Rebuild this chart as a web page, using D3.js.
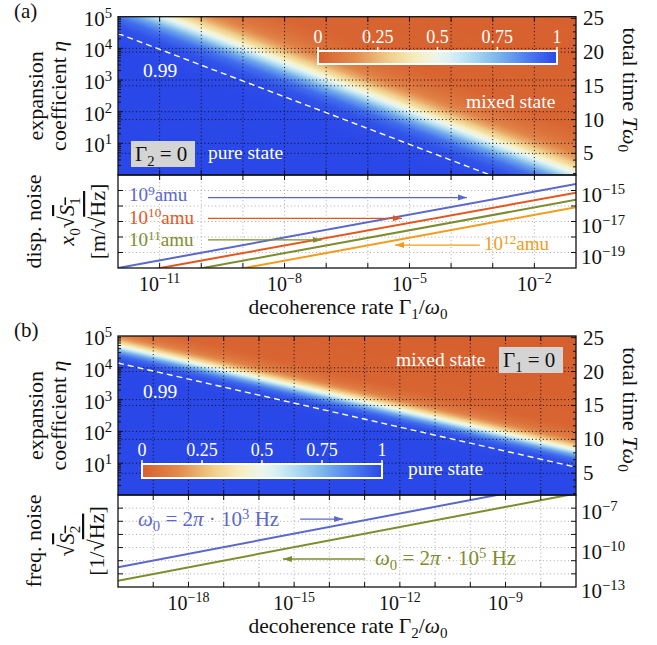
<!DOCTYPE html>
<html>
<head>
<meta charset="utf-8">
<script src="https://cdn.jsdelivr.net/npm/d3@7"></script>
<style>
body { margin: 0; background: #fff; }
text { font-family: "Liberation Serif", "Times New Roman", serif; fill: #111; }
</style>
</head>
<body>
<svg id="fig" width="657" height="645"></svg>
<script>
// purity colour map (0 = mixed, 1 = pure)
const cmapStops = [0, 0.15, 0.3, 0.42, 0.52, 0.62, 0.75, 0.88, 1];
const cmapColors = ['#d65f2e', '#e2894c', '#f0cf8c', '#f7f1c4', '#e9f6f3', '#b9e2f3', '#7db6ec', '#4b7bef', '#2a48e8'];
const cbarTicks = [0, 0.25, 0.5, 0.75, 1];
const cbarLabels = ['0', '0.25', '0.5', '0.75', '1'];

// purity across the band, vs decades of eta^n * Gamma past the 0.99 line
const bandShift = [-3, -1, 0, 0.5, 1, 1.5, 2, 2.5, 3, 3.5, 4, 5, 14];
const bandPurity = [1, 0.999, 0.99, 0.97, 0.91, 0.78, 0.57, 0.37, 0.22, 0.12, 0.07, 0.02, 0];

const etaDomain = [1, 1e5];
const etaTicks = [1e1, 1e2, 1e3, 1e4, 1e5];
const timeDomain = [1.79, 25.24];
const timeTicks = [5, 10, 15, 20, 25];

// (a) Gamma_2 = 0
const gammaA = [1e-12, 1e-1];
const gammaALabels = [1e-11, 1e-8, 1e-5, 1e-2];
const contourAGamma = [1e-12, 1e-3];
const contourAEta = [2.95e4, 0.93];
const noiseADomain = [1e-20, 1e-14];
const noiseALabels = [1e-19, 1e-17, 1e-15];
const massExp = ['9', '10', '11', '12'];
const massColors = ['#5a68c9', '#e4561f', '#7c8d2e', '#f39c1b'];
const noiseM9 = [1.0e-20, 2.6e-15];
const noiseM10 = [3.2e-21, 7.2e-16];
const noiseM11 = [1.0e-21, 2.5e-16];
const noiseM12 = [3.2e-22, 8.3e-17];
// arrows [gamma from, gamma to, noise level]
const arrowsA = [[1.45e-10, 2.4e-4, 3.5e-16], [1.45e-10, 6.6e-6, 1.6e-17], [1.45e-10, 7.9e-8, 6.5e-19], [4.9e-4, 4.5e-6, 3.0e-19]];

// (b) Gamma_1 = 0
const gammaB = [1e-20, 1e-7];
const gammaBLabels = [1e-18, 1e-15, 1e-12, 1e-9];
const contourBGamma = [1e-20, 1e-7];
const contourBEta = [1.41e4, 7.5];
const noiseBDomain = [1e-13, 1e-6];
const noiseBLabels = [1e-13, 1e-10, 1e-7];
const freqExp = ['3', '5'];
const freqColors = ['#5a68c9', '#7c8d2e'];
const noiseW3 = [3.2e-12, 1.4e-5];
const noiseW5 = [3.0e-13, 1.3e-6];
const arrowsB = [[1.48e-15, 2.45e-14, 1.48e-8], [1.02e-13, 4.8e-16, 1.35e-11]];

const X0 = 118, X1 = 576;
const svg = d3.select('#fig');
const defs = svg.append('defs');

const cmap = d3.scaleLinear().domain(cmapStops).range(cmapColors).interpolate(d3.interpolateRgb);
const band = d3.scaleLinear().domain(bandShift).range(bandPurity).clamp(true);

const grad = defs.append('linearGradient').attr('id', 'cbar');
d3.range(0, 1.0001, 0.05).forEach(t => grad.append('stop').attr('offset', t).attr('stop-color', cmap(t)));

function marker(id, col) {
  defs.append('marker').attr('id', id).attr('markerUnits', 'userSpaceOnUse')
    .attr('markerWidth', 10).attr('markerHeight', 8).attr('refX', 9).attr('refY', 4)
    .attr('orient', 'auto')
    .append('path').attr('d', 'M0,1L9,4L0,7Z').attr('fill', col);
}

// text with sub/superscripts: parts [text, 'sup'|'sub'|'', italic, overline]
function rich(g, parts, fs, supLvl) {
  const t = g.append('text').attr('font-size', fs);
  let shift = 0;
  parts.forEach(p => {
    const lvl = p[1] === 'sup' ? (supLvl || -0.38) : p[1] === 'sub' ? 0.25 : 0;
    const ts = t.append('tspan').text(p[0]).attr('dy', ((lvl - shift) * fs) + 'px');
    if (p[1]) ts.attr('font-size', fs * 0.7);
    if (p[2]) ts.attr('font-style', 'italic');
    if (p[3]) ts.attr('text-decoration', 'overline');
    shift = lvl;
  });
  return t;
}
function pow10(v) {
  const e = Math.round(Math.log10(v));
  return [['10', ''], [(e < 0 ? '\u2212' : '') + Math.abs(e), 'sup']];
}

function panel(o) {
  const g = svg.append('g');
  const x = d3.scaleLog().domain(o.gamma).range([X0, X1]);
  const yh = d3.scaleLog().domain(etaDomain).range([o.mid, o.top]);
  const yt = d3.scaleLinear().domain(timeDomain).range([o.mid, o.top]);
  const yl = d3.scaleLog().domain(o.noiseDomain).range([o.bot, o.mid]);
  const decades = d3.range(Math.log10(o.gamma[0]) + 1, Math.log10(o.gamma[1])).map(e => Math.pow(10, e));

  // heat map
  const contour = d3.scaleLog().domain(o.contourGamma).range(o.contourEta.map(Math.log10));
  const w = X1 - X0, h = Math.round(o.mid - o.top);
  const cv = document.createElement('canvas');
  cv.width = w; cv.height = h;
  const ctx = cv.getContext('2d');
  const img = ctx.createImageData(w, h);
  for (let j = 0; j < h; j++) {
    const eta = yh.invert(o.top + (j + 0.5) * (o.mid - o.top) / h);
    for (let i = 0; i < w; i++) {
      const gam = x.invert(X0 + i + 0.5);
      const d = o.power * (Math.log10(eta) - contour(gam));
      const c = d3.rgb(cmap(band(d)));
      const k = (j * w + i) * 4;
      img.data[k] = c.r; img.data[k + 1] = c.g; img.data[k + 2] = c.b; img.data[k + 3] = 255;
    }
  }
  ctx.putImageData(img, 0, 0);
  g.append('image').attr('x', X0).attr('y', o.top).attr('width', w).attr('height', o.mid - o.top)
    .attr('preserveAspectRatio', 'none').attr('href', cv.toDataURL());

  const clipH = 'clipH' + o.id, clipL = 'clipL' + o.id;
  defs.append('clipPath').attr('id', clipH).append('rect').attr('x', X0).attr('y', o.top).attr('width', w).attr('height', o.mid - o.top);
  defs.append('clipPath').attr('id', clipL).append('rect').attr('x', X0).attr('y', o.mid).attr('width', w).attr('height', o.bot - o.mid);

  // grids in heat map
  const gh = g.append('g').attr('stroke', '#111').attr('stroke-width', 1).attr('stroke-dasharray', '1,2.6').attr('fill', 'none');
  decades.forEach(v => gh.append('line').attr('x1', x(v)).attr('x2', x(v)).attr('y1', o.top).attr('y2', o.mid));
  etaTicks.slice(0, 4).forEach(v => gh.append('line').attr('x1', X0).attr('x2', X1).attr('y1', yh(v)).attr('y2', yh(v)));
  timeTicks.slice(0, 4).forEach(v => gh.append('line').attr('x1', X0).attr('x2', X1).attr('y1', yt(v)).attr('y2', yt(v)));

  // contour 0.99
  g.append('path').attr('clip-path', 'url(#' + clipH + ')')
    .attr('d', d3.line()(o.contourGamma.map((v, i) => [x(v), yh(o.contourEta[i])])))
    .attr('stroke', '#fff').attr('stroke-width', 1.4).attr('stroke-dasharray', '6,4').attr('fill', 'none');

  // grids in line panel
  const gl = g.append('g').attr('stroke', '#aaa').attr('stroke-width', 1).attr('stroke-dasharray', '1,2.6');
  decades.forEach(v => gl.append('line').attr('x1', x(v)).attr('x2', x(v)).attr('y1', o.mid).attr('y2', o.bot));
  const nd = d3.range(Math.log10(o.noiseDomain[0]) + 1, Math.log10(o.noiseDomain[1])).map(e => Math.pow(10, e));
  nd.forEach(v => gl.append('line').attr('x1', X0).attr('x2', X1).attr('y1', yl(v)).attr('y2', yl(v)));

  // noise lines
  const ll = g.append('g').attr('clip-path', 'url(#' + clipL + ')');
  o.series.forEach((s, i) => {
    ll.append('path').attr('d', d3.line()(o.gamma.map((v, k) => [x(v), yl(s[k])])))
      .attr('stroke', o.colors[i]).attr('stroke-width', 2).attr('fill', 'none');
  });
  o.arrows.forEach((a, i) => {
    const col = o.arrowColors[i];
    marker('m' + o.id + i, col);
    g.append('line').attr('x1', x(a[0])).attr('x2', x(a[1])).attr('y1', yl(a[2])).attr('y2', yl(a[2]))
      .attr('stroke', col).attr('stroke-width', 1.3).attr('marker-end', 'url(#m' + o.id + i + ')');
  });

  // frames
  [[o.top, o.mid], [o.mid, o.bot]].forEach(r => g.append('rect').attr('x', X0).attr('y', r[0])
    .attr('width', w).attr('height', r[1] - r[0]).attr('fill', 'none').attr('stroke', '#111').attr('stroke-width', 1.3));

  // ticks (inward)
  const tk = g.append('g').attr('stroke', '#111').attr('stroke-width', 1);
  const vt = (xx, y0, len) => tk.append('line').attr('x1', xx).attr('x2', xx).attr('y1', y0).attr('y2', y0 + len);
  const ht = (yy, x0, len) => tk.append('line').attr('x1', x0).attr('x2', x0 + len).attr('y1', yy).attr('y2', yy);
  decades.forEach(v => { vt(x(v), o.top, 5); vt(x(v), o.mid, -5); vt(x(v), o.mid, 5); vt(x(v), o.bot, -5); });
  d3.range(0, 5).forEach(e => d3.range(1, 10).forEach(m => {
    const v = m * Math.pow(10, e);
    if (v <= 1 || v >= 1e5) return;
    ht(yh(v), X0, m === 1 ? 5 : 3);
  }));
  d3.range(2, 26).forEach(t => ht(yt(t), X1, t % 5 === 0 ? -5 : -3));
  nd.forEach(v => { ht(yl(v), X0, 5); ht(yl(v), X1, -5); });

  // tick labels
  etaTicks.forEach(v => rich(g, pow10(v), 21).attr('x', 112).attr('y', yh(v) + 9).attr('text-anchor', 'end'));
  timeTicks.forEach(t => g.append('text').attr('x', 583).attr('y', yt(t) + 7).attr('font-size', 21).text(t));
  o.xLabels.forEach(v => rich(g, pow10(v), 20).attr('x', x(v)).attr('y', o.bot + 23).attr('text-anchor', 'middle'));
  o.noiseLabels.forEach(v => rich(g, pow10(v), 21).attr('x', 581).attr('y', yl(v) + 11));

  // axis titles
  const rot = (bx, cy, parts, ang) => rich(g, parts, 22).attr('text-anchor', 'middle')
    .attr('transform', `translate(${bx},${cy}) rotate(${ang || -90})`);
  const cy1 = (o.top + o.mid) / 2, cy2 = (o.mid + o.bot) / 2;
  rot(43, cy1, [['expansion', '']]);
  rot(66, cy1, [['coefficient ', ''], ['\u03b7', '', true]]);
  rot(623, cy1 - 6, [['total time ', ''], ['T\u03c9', '', true], ['0', 'sub']], 90);
  o.noiseTitle.forEach((p, i) => rot(o.noiseTitleX[i], cy2, p));
  rich(g, [['decoherence rate \u0393', ''], [o.gIdx, 'sub'], ['/', ''], ['\u03c9', '', true], ['0', 'sub']], 21.5)
    .attr('x', 348).attr('y', o.bot + 46).attr('text-anchor', 'middle');
  g.append('text').attr('x', 14).attr('y', o.top + 1).attr('font-size', 21).text('(' + o.id + ')');

  // colour bar
  const cb = o.cbar;
  const cbx = d3.scaleLinear().domain([0, 1]).range([cb[0], cb[1]]);
  g.append('rect').attr('x', cb[0]).attr('y', cb[2]).attr('width', cb[1] - cb[0]).attr('height', cb[3] - cb[2])
    .attr('fill', 'url(#cbar)').attr('stroke', '#fff').attr('stroke-width', 2);
  cbarTicks.forEach((t, i) => {
    g.append('line').attr('x1', cbx(t)).attr('x2', cbx(t)).attr('y1', cb[2]).attr('y2', cb[2] - 4)
      .attr('stroke', '#fff').attr('stroke-width', 1.5);
    g.append('text').attr('x', cbx(t)).attr('y', cb[2] - 8).attr('text-anchor', 'middle')
      .attr('font-size', 18).style('fill', '#fff').text(cbarLabels[i]);
  });

  // annotations
  const wt = (xx, yy, s) => g.append('text').attr('x', xx).attr('y', yy).attr('font-size', 19.5).style('fill', '#fff').text(s);
  wt(o.p99[0], o.p99[1], '0.99');
  wt(o.pure[0], o.pure[1], 'pure state');
  wt(o.mixed[0], o.mixed[1], 'mixed state');
  g.append('rect').attr('x', o.box[0]).attr('y', o.box[1]).attr('width', 64).attr('height', 26).attr('fill', '#d4d4d4');
  rich(g, [['\u0393', ''], [o.boxIdx, 'sub'], [' = 0', '']], 21).attr('x', o.box[0] + 4).attr('y', o.box[1] + 20);
  o.texts.forEach(t => rich(g, t.parts, t.fs, -0.33).attr('x', t.x).attr('y', t.y).style('fill', t.col)
    .selectAll('tspan').style('fill', t.col));
}

panel({
  id: 'a', top: 16.7, mid: 175, bot: 268, power: 2, gIdx: '1', boxIdx: '2',
  gamma: gammaA, xLabels: gammaALabels, contourGamma: contourAGamma, contourEta: contourAEta,
  noiseDomain: noiseADomain, noiseLabels: noiseALabels,
  series: [noiseM9, noiseM10, noiseM11, noiseM12], colors: massColors,
  arrows: arrowsA, arrowColors: massColors,
  noiseTitle: [[['disp. noise', '']], [['x', '', true], ['0', 'sub'], ['\u221a', ''], ['S', '', true, true], ['1', 'sub', false, true]],
    [['[m/\u221a', ''], ['Hz', '', false, true], [']', '']]],
  noiseTitleX: [41, 74, 105],
  cbar: [318, 557, 51, 64], p99: [143, 77], pure: [208, 159], mixed: [466, 108], box: [131, 141],
  texts: massExp.map((e, i) => ({ parts: [['10', ''], [e, 'sup'], ['amu', '']], col: massColors[i], fs: 19,
    x: [129, 129, 129, 484][i], y: [201, 223.5, 246, 250][i] }))
});

panel({
  id: 'b', top: 336, mid: 495, bot: 587, power: 4, gIdx: '2', boxIdx: '1',
  gamma: gammaB, xLabels: gammaBLabels, contourGamma: contourBGamma, contourEta: contourBEta,
  noiseDomain: noiseBDomain, noiseLabels: noiseBLabels,
  series: [noiseW3, noiseW5], colors: freqColors,
  arrows: arrowsB, arrowColors: freqColors,
  noiseTitle: [[['freq. noise', '']], [['\u221a', ''], ['S', '', true, true], ['2', 'sub', false, true]],
    [['[1/\u221a', ''], ['Hz', '', false, true], [']', '']]],
  noiseTitleX: [41, 74, 104],
  cbar: [142, 382, 464, 478], p99: [143, 398], pure: [408, 475], mixed: [396, 366], box: [499, 347],
  texts: freqExp.map((e, i) => ({ parts: [['\u03c9', '', true], ['0', 'sub'], [' = 2', ''], ['\u03c0', '', true],
    [' \u00b7 10', ''], [e, 'sup'], [' Hz', '']], col: freqColors[i], fs: 21, x: [138, 375][i], y: [526, 565][i] }))
});
</script>
</body>
</html>
